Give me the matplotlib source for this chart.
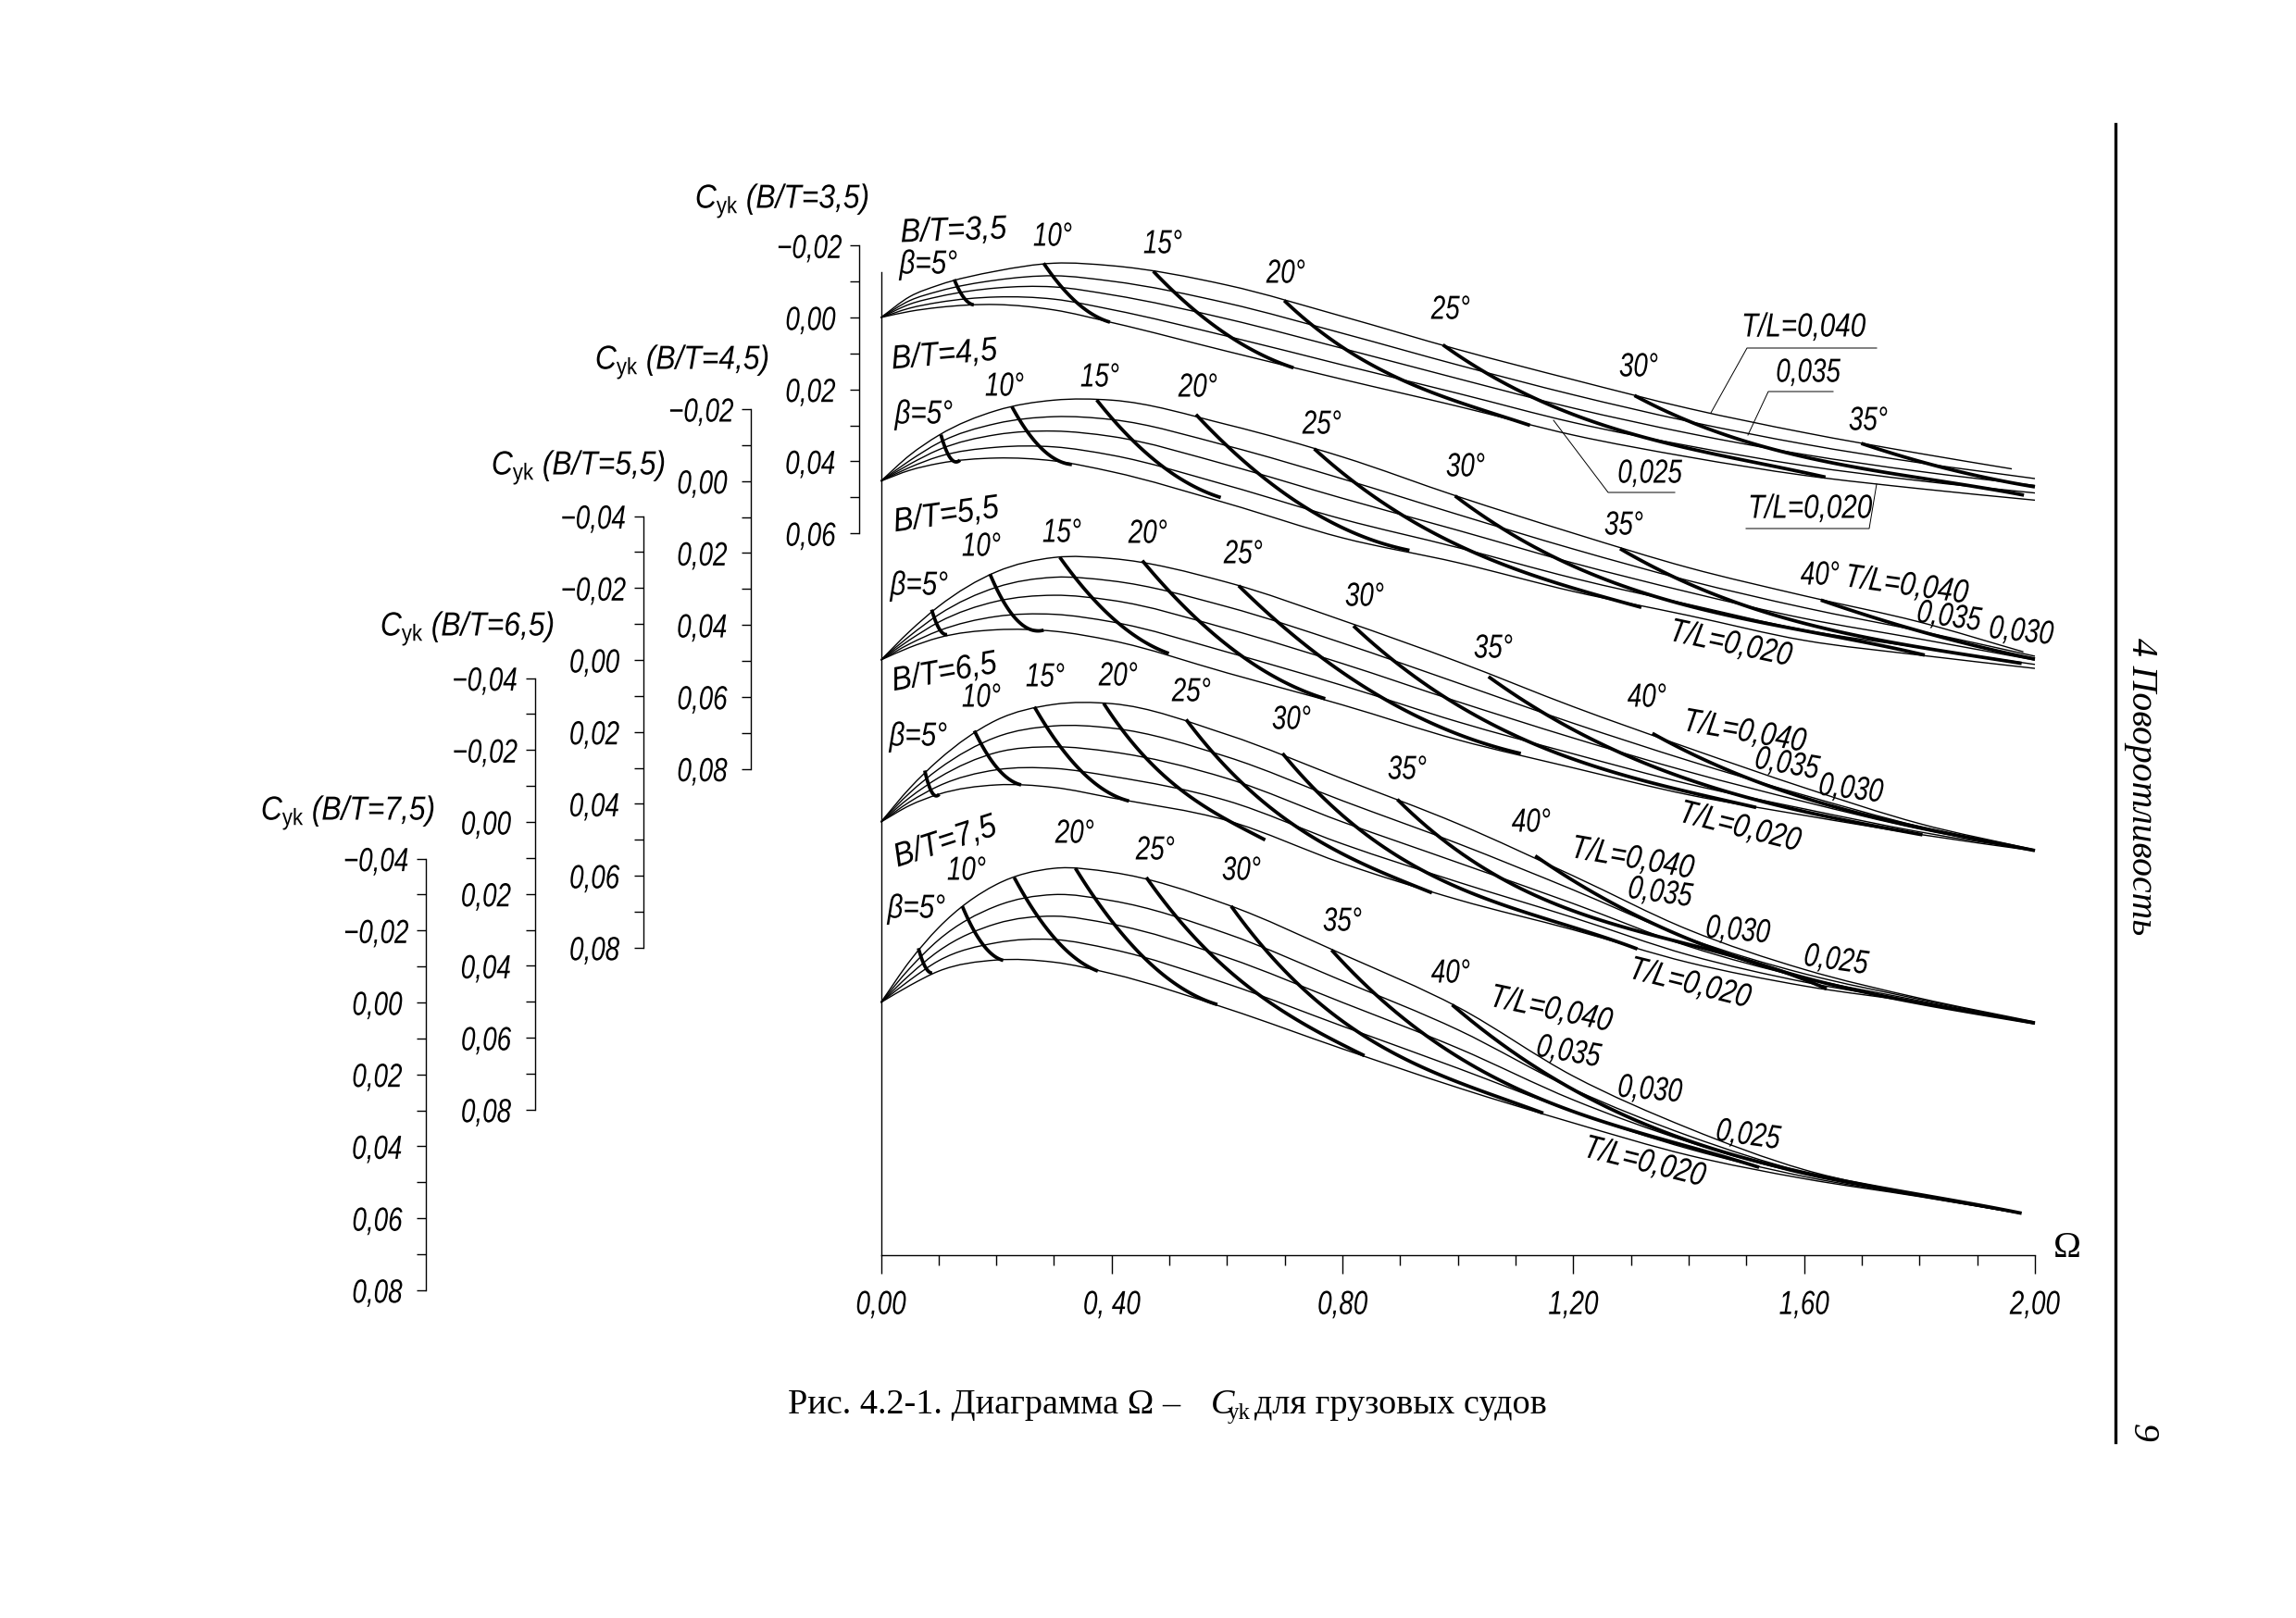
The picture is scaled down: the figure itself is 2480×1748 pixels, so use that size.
import matplotlib
matplotlib.use("Agg")
import matplotlib.pyplot as plt
import numpy as np
from matplotlib.lines import Line2D
from matplotlib.patches import PathPatch
from matplotlib.patheffects import AbstractPathEffect
from matplotlib.path import Path
from matplotlib.ticker import FixedLocator, FixedFormatter
from matplotlib.transforms import Affine2D

plt.rcParams['font.family'] = ['Liberation Sans', 'DejaVu Sans']
plt.rcParams['mathtext.fontset'] = 'custom'
plt.rcParams['mathtext.rm'] = 'Liberation Sans'
plt.rcParams['mathtext.it'] = 'Liberation Sans:italic'

W, H = 2480, 1748
AX_L, AX_R, AX_T, AX_B = 951.5, 2198, 294, 1356
FAM_T, FAM_B = 200, 1440
PX_PER_C = 3885
SIZE = 26
NARROW = 0.77

## Data -----------------------------------------------

OMEGA = [0, .05, .1, .2, .3, .4, .6, .8, 1.0, 1.2, 1.4, 1.6, 1.8, 2.0]

# rows go T/L = 0.040, 0.035, 0.030, 0.025, 0.020
CY_35 = [
    [0, -.0058, -.0090, -.0129, -.0151, -.0144, -.0090, -.0003, .0089, .0173, .0253, .0320, .0378, .0421],
    [0, -.0047, -.0073, -.0104, -.0116, -.0101, -.0040, .0044, .0132, .0215, .0289, .0352, .0404, .0448],
    [0, -.0037, -.0058, -.0082, -.0085, -.0063, .0004, .0086, .0170, .0252, .0322, .0381, .0428, .0467],
    [0, -.0026, -.0042, -.0057, -.0051, -.0022, .0052, .0132, .0211, .0292, .0357, .0412, .0454, .0488],
    [0, -.0017, -.0028, -.0036, -.0021, .0014, .0094, .0172, .0247, .0327, .0388, .0439, .0476, .0508],
]
CY_45 = [
    [0, -.0072, -.0127, -.0196, -.0225, -.0225, -.0157, -.0067, .0043, .0145, .0241, .0319, .0392, .0475],
    [0, -.0057, -.0106, -.0160, -.0179, -.0171, -.0098, -.0006, .0093, .0189, .0277, .0352, .0417, .0487],
    [0, -.0047, -.0087, -.0129, -.0139, -.0124, -.0045, .0048, .0137, .0228, .0309, .0382, .0439, .0498],
    [0, -.0038, -.0068, -.0094, -.0095, -.0072, .0012, .0106, .0185, .0270, .0343, .0414, .0463, .0510],
    [0, -.0030, -.0049, -.0064, -.0056, -.0026, .0062, .0158, .0227, .0307, .0374, .0443, .0484, .0521],
]
CY_55 = [
    [0, -.0080, -.0149, -.0245, -.0285, -.0282, -.0216, -.0110, .0005, .0130, .0245, .0355, .0455, .0528],
    [0, -.0067, -.0126, -.0202, -.0230, -.0220, -.0148, -.0047, .0064, .0176, .0280, .0376, .0463, .0529],
    [0, -.0056, -.0105, -.0163, -.0180, -.0166, -.0087, .0010, .0116, .0217, .0311, .0394, .0470, .0530],
    [0, -.0045, -.0081, -.0121, -.0127, -.0106, -.0022, .0071, .0172, .0261, .0345, .0414, .0478, .0530],
    [0, -.0035, -.0062, -.0084, -.0080, -.0054, .0036, .0125, .0222, .0300, .0375, .0432, .0485, .0531],
]
CY_65 = [
    [0, -.0094, -.0172, -.0283, -.0327, -.0329, -.0243, -.0120, .0005, .0150, .0300, .0410, .0490, .0556],
    [0, -.0081, -.0147, -.0236, -.0267, -.0261, -.0181, -.0059, .0060, .0189, .0324, .0422, .0493, .0558],
    [0, -.0068, -.0123, -.0193, -.0209, -.0195, -.0121, 0, .0113, .0227, .0346, .0433, .0497, .0559],
    [0, -.0056, -.0100, -.0145, -.0149, -.0127, -.0059, .0061, .0167, .0266, .0370, .0445, .0500, .0561],
    [0, -.0046, -.0077, -.0103, -.0096, -.0067, -.0004, .0115, .0216, .0300, .0391, .0456, .0503, .0562],
]
CY_75 = [
    [0, -.0115, -.0208, -.0328, -.0373, -.0362, -.0272, -.0134, .0013, .0205, .0350, .0465, .0535, .0586],
    [0, -.0095, -.0174, -.0268, -.0300, -.0283, -.0191, -.0060, .0076, .0241, .0371, .0472, .0536, .0586],
    [0, -.0077, -.0143, -.0219, -.0240, -.0218, -.0125, 0, .0127, .0271, .0388, .0478, .0538, .0586],
    [0, -.0062, -.0116, -.0166, -.0175, -.0148, -.0052, .0066, .0183, .0304, .0407, .0484, .0539, .0587],
    [0, -.0047, -.0087, -.0118, -.0112, -.0080, .0017, .0129, .0237, .0335, .0425, .0490, .0540, .0587],
]

# last omega of each T/L curve
ENDS_35 = [1.96, 2.0, 2.0, 2.0, 2.0]
ENDS_45 = [1.98, 2.0, 2.0, 2.0, 2.0]
ENDS_55 = [2.0, 2.0, 2.0, 2.0, 2.0]
ENDS_65 = [2.0, 2.0, 2.0, 2.0, 2.0]
ENDS_75 = [1.975, 1.975, 1.975, 1.975, 1.975]

# lines of constant beta: (omega values, cy values)
BETA_35 = [
    ([.127, .137, .161], [-.0106, -.0072, -.0035]),
    ([.282, .318, .397], [-.0151, -.0076, .0013]),
    ([.472, .539, .613, .715], [-.0129, -.0021, .0057, .0140]),
    ([.699, .752, .818, .941, 1.125], [-.0047, .0025, .0103, .0199, .0300]),
    ([.974, 1.044, 1.158, 1.322, 1.637], [.0076, .0150, .0242, .0333, .0444]),
    ([1.306, 1.388, 1.519, 1.740, 1.981], [.0217, .0278, .0356, .0430, .0494]),
    ([1.699, 1.781, 1.887, 2.0], [.0350, .0393, .0434, .0471]),
]
BETA_45 = [
    ([.104, .112, .137], [-.0129, -.0090, -.0058]),
    ([.227, .261, .331], [-.0207, -.0122, -.0046]),
    ([.374, .425, .499, .589], [-.0226, -.0122, -.0035, .0046]),
    ([.546, .621, .736, .916], [-.0186, -.0049, .0062, .0193]),
    ([.751, .818, .880, 1.044, 1.191, 1.318], [-.0090, .0002, .0076, .0200, .0301, .0351]),
    ([.995, 1.085, 1.224, 1.453, 1.809], [.0041, .0144, .0250, .0369, .0484]),
    ([1.281, 1.388, 1.535, 1.780, 1.977], [.0188, .0278, .0365, .0457, .0507]),
    ([1.629, 1.748, 1.879, 2.0], [.0331, .0392, .0452, .0495]),
]
BETA_55 = [
    ([.088, .096, .115], [-.0140, -.0103, -.0071]),
    ([.189, .216, .282], [-.0239, -.0153, -.0083]),
    ([.310, .359, .425, .499], [-.0286, -.0181, -.0089, -.0018]),
    ([.453, .531, .630, .770], [-.0277, -.0126, -.0016, .0108]),
    ([.620, .675, .777, .880, .976, 1.109], [-.0207, -.0117, .0007, .0110, .0196, .0260]),
    ([.819, .880, .991, 1.145, 1.249, 1.366, 1.517], [-.0095, -.0006, .0119, .0239, .0299, .0359, .0410]),
    ([1.053, 1.138, 1.226, 1.322, 1.469, 1.617, 1.805], [.0046, .0144, .0213, .0286, .0363, .0432, .0486]),
    ([1.337, 1.447, 1.543, 1.654, 1.801, 2.0], [.0204, .0294, .0350, .0410, .0466, .0530]),
]
BETA_65 = [
    ([.076, .082, .101], [-.0143, -.0107, -.0077]),
    ([.162, .182, .209, .243], [-.0254, -.0189, -.0141, -.0103]),
    ([.266, .298, .348, .430], [-.0321, -.0223, -.0150, -.0058]),
    ([.386, .427, .489, .562, .666], [-.0330, -.0240, -.0129, -.0043, .0050]),
    ([.529, .581, .648, .734, .826, .955], [-.0285, -.0180, -.0077, .0026, .0111, .0197]),
    ([.696, .753, .826, .890, .960, 1.064, 1.197, 1.311], [-.0191, -.0086, .0020, .0090, .0146, .0222, .0296, .0353]),
    ([.895, .968, 1.079, 1.211, 1.359, 1.491, 1.639], [-.0063, .0048, .0160, .0250, .0323, .0383, .0464]),
    ([1.134, 1.232, 1.355, 1.453, 1.617, 1.780, 2.0], [.0094, .0197, .0298, .0353, .0440, .0500, .0559]),
]
BETA_75 = [
    ([.065, .073, .089], [-.0151, -.0112, -.0082]),
    ([.141, .163, .212], [-.0268, -.0195, -.0117]),
    ([.231, .269, .318, .376], [-.0348, -.0236, -.0158, -.0087]),
    ([.337, .392, .458, .583], [-.0374, -.0231, -.0130, .0006]),
    ([.460, .503, .572, .654, .736, .838], [-.0348, -.0250, -.0140, -.0020, .0062, .0148]),
    ([.607, .662, .736, .842, .981, 1.148], [-.0268, -.0153, -.0034, .0099, .0209, .0308]),
    ([.781, .842, .962, 1.011, 1.126, 1.273, 1.412, 1.522], [-.0147, -.0029, .0113, .0154, .0256, .0338, .0416, .0458]),
    ([.990, 1.044, 1.142, 1.232, 1.347, 1.453, 1.609, 1.805, 1.977], [.0006, .0081, .0191, .0274, .0352, .0402, .0480, .0540, .0586]),
]

FAMILIES = ['3,5', '4,5', '5,5', '6,5', '7,5']
ZERO_PX = [343, 519.7, 713, 888, 1083]
SPINE_PX = [928, 811, 694.6, 577.5, 460]
Y_TICKS = [
    [-.02, 0, .02, .04, .06],
    [-.02, 0, .02, .04, .06, .08],
    [-.04, -.02, 0, .02, .04, .06, .08],
    [-.04, -.02, 0, .02, .04, .06, .08],
    [-.04, -.02, 0, .02, .04, .06, .08],
]
X_TICKS = [0, .4, .8, 1.2, 1.6, 2.0]
X_LABELS = ['0,00', '0, 40', '0,80', '1,20', '1,60', '2,00']

ALL_CY = [CY_35, CY_45, CY_55, CY_65, CY_75]
ALL_ENDS = [ENDS_35, ENDS_45, ENDS_55, ENDS_65, ENDS_75]
ALL_BETA = [BETA_35, BETA_45, BETA_55, BETA_65, BETA_75]

# text, centre x, centre y (pixels in the page), rotation
NOTES = [
    ('B/T=3,5', 1030, 250, 2), ('β=5°', 1003, 286, 0), ('10°', 1137, 256, 0), ('15°', 1256, 264, 0),
    ('20°', 1389, 296, 0), ('25°', 1567, 335, 0), ('30°', 1770, 397, 0), ('35°', 2018, 455, 0),
    ('T/L=0,040', 1948, 354, 0), ('0,035', 1953, 403, 0), ('0,025', 1782, 512, 0), ('T/L=0,020', 1955, 550, 0),
    ('B/T=4,5', 1020, 384, 5), ('β=5°', 998, 448, 0), ('10°', 1085, 418, 0), ('15°', 1188, 408, 0),
    ('20°', 1294, 419, 0), ('25°', 1428, 459, 0), ('30°', 1583, 505, 0), ('35°', 1754, 568, 0),
    ('40°', 1966, 622, 0), ('T/L=0,040', 2059, 633, -8), ('0,035', 2105, 667, -8), ('0,030', 2183, 683, -6),
    ('T/L=0,020', 1869, 696, -12),
    ('B/T=5,5', 1022, 557, 8), ('β=5°', 993, 633, 0), ('10°', 1060, 591, 0), ('15°', 1147, 576, 0),
    ('20°', 1240, 577, 0), ('25°', 1343, 599, 0), ('30°', 1474, 645, 0), ('35°', 1613, 701, 0),
    ('40°', 1779, 754, 0), ('T/L=0,040', 1884, 791, -10), ('0,035', 1930, 826, -10), ('0,030', 1999, 853, -7),
    ('T/L=0,020', 1879, 894, -14),
    ('B/T=6,5', 1020, 727, 10), ('β=5°', 992, 796, 0), ('10°', 1060, 754, 0), ('15°', 1129, 732, 0),
    ('20°', 1208, 731, 0), ('25°', 1287, 748, 0), ('30°', 1395, 778, 0), ('35°', 1520, 832, 0),
    ('40°', 1654, 889, 0), ('T/L=0,040', 1763, 928, -10), ('0,035', 1793, 965, -8), ('0,030', 1877, 1006, -5),
    ('0,025', 1983, 1038, -8), ('T/L=0,020', 1825, 1063, -14),
    ('B/T=7,5', 1021, 910, 18), ('β=5°', 990, 982, 0), ('10°', 1044, 941, 0), ('20°', 1161, 901, 0),
    ('25°', 1248, 919, 0), ('30°', 1341, 941, 0), ('35°', 1450, 996, 0), ('40°', 1567, 1052, 0),
    ('T/L=0,040', 1675, 1091, -12), ('0,035', 1694, 1137, -10), ('0,030', 1782, 1178, -5),
    ('0,025', 1888, 1227, -8), ('T/L=0,020', 1776, 1256, -14),
]
AXIS_TITLE_PX = [(845, 217), (737, 391), (625, 505), (505, 679), (376, 878)]

# thin leader lines from the T/L labels
LEADERS = [
    [(2027, 376), (1887, 376), (1848, 446)],
    [(1980, 423), (1910, 423), (1888, 470)],
    [(1809, 532), (1737, 532), (1678, 454)],
    [(1886, 571), (2019, 571), (2027, 523)],
]

## Helpers --------------------------------------------


class Narrow(AbstractPathEffect):
    # the drafting font in the scan is much narrower than anything installed
    def __init__(self, sx=NARROW, anchor='center', shift=0):
        super().__init__()
        self.sx, self.anchor, self.shift = sx, anchor, shift

    def draw_path(self, renderer, gc, tpath, affine, rgbFace=None):
        box = tpath.get_extents()
        cx = box.x1 if self.anchor == 'right' else (box.x0 + box.x1) / 2
        squeeze = Affine2D().translate(-cx, 0).scale(self.sx, 1).translate(cx, 0)
        renderer.draw_path(gc, tpath, squeeze + affine + Affine2D().translate(self.shift, 0), rgbFace)


def note_width(text):
    if text.startswith('B/T'):
        return 0.9
    if text.startswith(('T/L', 'β')):
        return 0.82
    return NARROW


def fx(px):
    return px / W


def fy(py):
    return 1 - py / H


def smooth_path(x, y):
    # bezier through the read points, slopes taken from the neighbours
    x = np.asarray(x, dtype=float)
    y = np.asarray(y, dtype=float)
    t = np.gradient(y, x)
    verts = [(x[0], y[0])]
    codes = [Path.MOVETO]
    for i in range(len(x) - 1):
        h = x[i + 1] - x[i]
        verts += [(x[i] + h / 3, y[i] + t[i] * h / 3),
                  (x[i + 1] - h / 3, y[i + 1] - t[i + 1] * h / 3),
                  (x[i + 1], y[i + 1])]
        codes += [Path.CURVE4] * 3
    return Path(verts, codes)


## Main -----------------------------------------------

fig = plt.figure(figsize=(W / 100, H / 100), dpi=100, facecolor='white')

base = fig.add_axes([fx(AX_L), fy(AX_B), (AX_R - AX_L) / W, (AX_B - AX_T) / H])
base.patch.set_visible(False)
base.set_xlim(0, 2)
base.set_ylim(0, 1)
for side in ['top', 'right']:
    base.spines[side].set_visible(False)
for side in ['left', 'bottom']:
    base.spines[side].set_linewidth(1.0)
base.set_yticks([])
base.set_xticks(X_TICKS)
base.set_xticklabels(X_LABELS, fontsize=SIZE, style='italic')
base.xaxis.set_minor_locator(FixedLocator(np.arange(0, 2.01, 0.1)))
base.tick_params(axis='x', which='major', length=14.4, width=1.0, pad=12)
base.tick_params(axis='x', which='minor', length=8, width=1.0)
for lab in base.get_xticklabels():
    lab.set_path_effects([Narrow()])

fam_rect = [fx(AX_L), fy(FAM_B), (AX_R - AX_L) / W, (FAM_B - FAM_T) / H]
for i, fam in enumerate(FAMILIES):
    ax = fig.add_axes(fam_rect, label=fam)
    ax.patch.set_visible(False)
    ax.set_xlim(0, 2)
    ax.set_ylim((FAM_B - ZERO_PX[i]) / PX_PER_C, (FAM_T - ZERO_PX[i]) / PX_PER_C)
    ax.xaxis.set_visible(False)
    for side in ['top', 'right', 'bottom']:
        ax.spines[side].set_visible(False)
    ax.spines['left'].set_position(('outward', (AX_L - SPINE_PX[i]) * 0.72))
    ax.spines['left'].set_bounds(Y_TICKS[i][0], Y_TICKS[i][-1])
    ax.spines['left'].set_linewidth(1.0)

    labels = [f'{v:.2f}'.replace('.', ',').replace('-', '\u2212') for v in Y_TICKS[i]]
    ax.yaxis.set_major_locator(FixedLocator(Y_TICKS[i]))
    ax.yaxis.set_major_formatter(FixedFormatter(labels))
    ax.yaxis.set_minor_locator(FixedLocator(np.arange(Y_TICKS[i][0], Y_TICKS[i][-1] + .001, .01)))
    ax.tick_params(axis='y', which='both', length=7.2, width=1.0, pad=11, labelsize=SIZE)
    for lab, v in zip(ax.get_yticklabels(), Y_TICKS[i]):
        lab.set_fontstyle('italic')
        lab.set_path_effects([Narrow(anchor='right', shift=7 if v < 0 else 0)])

    for row, end in zip(ALL_CY[i], ALL_ENDS[i]):
        om = list(OMEGA)
        om[-1] = end
        ax.add_patch(PathPatch(smooth_path(om, row), fill=False, lw=1.0, ec='black', clip_on=False))
    for om, cy in ALL_BETA[i]:
        # a low order fit irons out the reading errors along each beta line
        weights = [3] + [1] * (len(om) - 2) + [3]
        coef = np.polyfit(om, cy, 2 if len(om) <= 4 else 3, w=weights)
        dense = np.linspace(om[0], om[-1], 60)
        ax.plot(dense, np.polyval(coef, dense), lw=2.7, color='black', solid_capstyle='butt', clip_on=False)

    tx, ty = AXIS_TITLE_PX[i]
    fig.text(fx(tx), fy(ty), f'$C_{{\\mathrm{{yk}}}}$ (B/T={fam})', fontsize=SIZE,
             style='italic', ha='center', va='center', path_effects=[Narrow(sx=0.88)])

for text, x, y, rot in NOTES:
    fig.text(fx(x), fy(y), text, fontsize=SIZE, style='italic', ha='center', va='center',
             rotation=rot, path_effects=[Narrow(sx=note_width(text))])

for pts in LEADERS:
    xs = [fx(p[0]) for p in pts]
    ys = [fy(p[1]) for p in pts]
    fig.add_artist(Line2D(xs, ys, lw=0.7, color='black'))

fig.text(fx(2233), fy(1349), 'Ω', fontsize=29, family='Liberation Serif', ha='center', va='center')

# caption, built from pieces so that only C_yk is italic
cap = dict(fontsize=27.5, family='Liberation Serif', va='baseline')
fig.text(fx(851), fy(1527), 'Рис. 4.2-1. Диаграмма Ω –', ha='left', **cap)
fig.text(fx(1308), fy(1527), 'C', ha='left', style='italic', **cap)
fig.text(fx(1326), fy(1533), 'yk', ha='left', fontsize=18, family='Liberation Serif', va='baseline')
fig.text(fx(1355), fy(1527), 'для грузовых судов', ha='left', **cap)

# running head at the page edge
fig.add_artist(Line2D([fx(2285), fx(2285)], [fy(134), fy(1558)], lw=2.4, color='black'))
fig.text(fx(2313), fy(850), '4 Поворотливость', fontsize=28.5, family='Liberation Serif', style='italic',
         rotation=-90, ha='center', va='center')
fig.text(fx(2313), fy(1548), '9', fontsize=28.5, family='Liberation Serif', style='italic',
         rotation=-90, ha='center', va='center')

fig.savefig('out.png', dpi=100, facecolor='white')
